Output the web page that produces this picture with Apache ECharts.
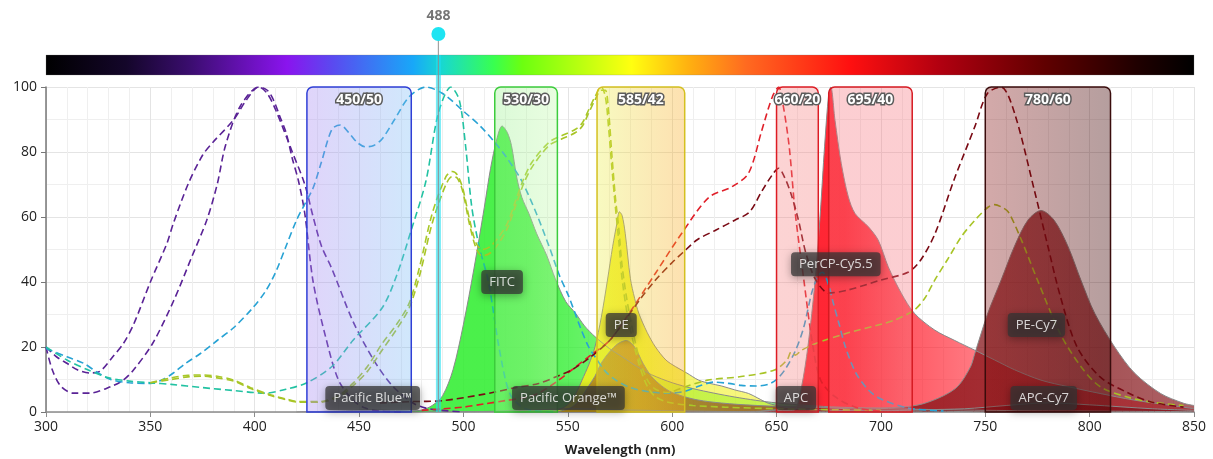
<!DOCTYPE html>
<html><head><meta charset="utf-8">
<script src="https://cdn.jsdelivr.net/npm/echarts@6/dist/echarts.min.js"></script>
<style>html,body{margin:0;padding:0;background:#fff}#c{width:1213px;height:459px}</style>
</head><body><div id="c"></div>
<script>
// ---------- DATA ----------
const xMin = 300, xMax = 850, xStep = 50;
const yMin = 0, yMax = 100, yStep = 20;
const laserNm = 488;
const laserLabel = '488';

const filterNames = ['450/50', '530/30', '585/42', '660/20', '695/40', '780/60'];
const filterLo = [425, 515, 564, 650, 675, 750];
const filterHi = [475, 545, 606, 670, 715, 810];

// excitation spectra (dashed)
const exPacificBlue = [[300,20],[305,17],[310,15],[315,13],[321,12],[326,12.6],[332,17],[337,21],[342,27],[350,40],[358,52],[361,58],[368,70],[375,79],[380,83],[390,90],[396,96],[402,100],[406,99],[409,96],[412,91],[415,86],[418,78],[421,71],[424,61],[428,40],[434,23],[440,10],[447,3.7],[453,1.2],[460,0.3],[470,0]];
const exPacificOrange = [[300,20],[303,13],[307,8],[313,5.8],[321,5.8],[331,7.8],[337,9.8],[342,13],[351,21],[361,34],[370,48],[377,59],[382,70],[386,82],[393,94],[402,100],[406,98],[410,93],[418,80],[424,70],[428,60],[432,51],[437,44],[447,28],[457,16],[466,8],[476,2.7],[482,1.2],[490,0.5],[500,0]];
const exPerCPCy55 = [[300,19.5],[310,17],[318,15],[325,12],[331,10],[340,9],[350,8.8],[356,10],[361,12],[367,15],[374,18],[382,22],[390,26],[399,32],[405,37],[410,43],[415,51],[420,59],[424,64],[428,69],[432,77],[437,87],[441,88.3],[445,86],[449,83],[453,81.6],[457,82],[461,84],[467,90],[474,97],[482,100],[490,98],[501,92],[508,88],[515,83],[521,78],[528,71],[535,61],[541,51],[546,42],[550.5,35.5],[556,26],[560,20],[563,17],[568,12.5],[573,9.8],[580,7.5],[589,6.2],[597,5.8],[605,6.2],[613,8],[620,9.2],[627,8.8],[633,8.2],[640,8],[646,8.5],[650,10],[654,13],[659,18.8],[663,26],[667,37],[670,42],[672,43],[675,39],[677,34],[680,27],[683,20],[688,12],[694,6.8],[700,4],[713,1.2],[730,0.3]];
const exFITC = [[300,20],[310,16],[320,13],[330,10.5],[340,9.5],[350,9],[360,8.5],[375,7.5],[390,6.6],[405,5.8],[415,7],[425,9],[437,14],[447,22],[461,32],[468,42],[475,56],[482,71],[488,92],[494,100],[498,96],[501,82],[504,63],[507.5,51],[512,40],[517,20],[522,6],[528,1.5],[535,0.3],[545,0]];
const exPE = [[350,9],[360,10.5],[368,11.3],[375,11.4],[382,11],[390,9.8],[398,7.5],[408,5.2],[415,4],[421,3.2],[431,3.2],[440,5],[447,8.8],[454,14],[461,21],[468,27],[474,33.5],[479,44.7],[485,61],[491.6,72.4],[494.7,74],[497,73],[499.6,69],[503,59],[506,52],[509,50],[513,51],[517,54],[521,58],[525,65],[529,72],[533,77],[541,83],[547,85],[553.7,87],[557,89],[560,93],[563,97],[566,100],[568,97],[569.6,87],[571,76],[572.8,63],[574.5,52],[576,41],[579,28.3],[584,15],[588,8],[592,4.7],[598,3],[610,2],[625,1.5],[650,1],[700,0.5]];
const exPECy7 = [[350,9],[360,10],[368,10.8],[375,11],[382,10.5],[390,9.5],[398,7.2],[408,5],[415,3.8],[421,3],[431,3],[440,4.5],[447,8],[454,12.5],[461,19],[468,25.5],[474,32],[479,42],[485,58],[491.6,70],[494.7,72.5],[497,72],[499.6,68],[503,57.5],[506,50.5],[509,48],[513,49],[517,52],[521,56.5],[525,63.5],[529,70.5],[533,75.5],[541,82],[547,84],[553.7,86],[557,88],[560,92],[563,96],[566,99],[568,99],[569.6,92],[571,80],[572.8,66],[574.5,56],[576,45],[579,32],[584,17],[588,10],[592,7],[598,6],[605,7.5],[617,9.8],[633,10.9],[649,12.9],[655,16],[657,18.5],[659,17.5],[662,19],[668.5,21],[684,24.3],[700,27],[706.7,28.3],[716,31.4],[721,35],[725.8,40.6],[732,47],[738.6,54],[745,59],[751.3,63],[754.5,63.8],[758,63],[761,61.6],[767,53.4],[775,40.6],[786,24],[795.8,14],[805,7.8],[818,4.6],[830,3],[845,2]];
const exAPC = [[480,0.5],[490,1],[500,1.5],[510,2.5],[520,3.5],[530,4.5],[536,5.8],[545,9.5],[552,13],[561,17.5],[570,22],[579,30],[592,42.7],[604.6,55],[617.5,66],[628.6,69.3],[636.6,73.5],[643,86.8],[648,97],[651,100],[653,95],[656,82],[659,61],[663,41],[667,22],[671,10],[678,4.7],[689,1.2],[700,0.3]];
const exAPCCy7 = [[460,2.8],[475,3.2],[490,3.5],[510,5.5],[525,7.5],[536,8.8],[545,11],[552,13],[561,17],[570,22],[576,27],[585,35],[592,40.6],[600,46],[605,49],[612,53],[621,56],[630,59],[637,61.5],[643,68],[648,73],[651,75],[654,72],[657,67],[660.5,59],[664,49],[668.5,41],[675,36.6],[684,37.5],[700,40.6],[713,43],[719,46.7],[726,55],[735,71.4],[745,87.8],[751,98],[757.6,100],[764,92],[773.6,68],[780,51],[786,35.5],[794,20],[805,10.8],[818,6],[830,3],[845,1.5]];

// emission spectra (filled)
const emFITC = [[470,0],[475,0.2],[480,0.6],[485,2],[490,5],[495,13],[500,27],[505,44],[510,63],[513,75],[516,84],[518.5,88],[521,86],[523,82],[525.6,72],[528,66],[531.4,61],[535,55],[540,48],[544,41],[549,34],[553.7,30.4],[558,26.5],[563,23.2],[570,19.5],[576,17],[583,14],[590,11.5],[600,9],[610,7.2],[620,5.8],[630,4.6],[640,3.6],[650,2.8],[665,2],[680,1.5],[700,1.1],[730,0.7],[770,0.4],[850,0.1]];
const emPE = [[540,0],[545,0.6],[549,1.8],[552,3.7],[554.5,6.5],[556.8,9.8],[560,14.5],[563,20],[566,29],[569,40.6],[571.5,51],[573.5,58],[574.7,61.6],[576,60.5],[577.5,55],[580,41],[582,35],[584,30.4],[588,24.5],[592,20],[597,16],[601.5,14],[607,12],[612.7,9.8],[618,8.8],[623.7,8],[630,6.8],[636.6,5.7],[641,4.3],[646,2.7],[652,1.8],[660,1.1],[675,0.6],[700,0.2],[720,0]];
const emPerCPCy55 = [[600,0],[640,0.2],[650,0.5],[656,0.5],[659,0.8],[662,7.8],[665,20],[668.5,40.6],[671,61.6],[673,81.6],[675,98],[676,100],[678,89.8],[681,76.5],[684.4,66.2],[687.6,61.1],[694,57],[698.7,52.9],[703.5,44.7],[709.8,36.5],[716,30.4],[725.8,25.2],[735.4,22],[745,19],[754.5,16],[764,13],[776.7,9.8],[789.6,7.8],[805,5.7],[821,3.7],[837,2.2],[848,1.2],[850,1]];
const emPECy7 = [[545,0],[552,1.5],[556,4],[560,8],[563,11],[566,15],[570,18.5],[574,21],[578,22],[582,20],[586,15],[590,11],[595,8],[600,6],[610,4],[620,3],[635,2.2],[660,1.5],[690,1.2],[710,1.5],[720,2.5],[730,5],[737,8],[743,14],[745,18],[751,30],[757.6,40.6],[764,51],[770.4,59],[776.7,62],[783,59],[789.6,51],[795.8,40.6],[802.4,30.4],[812,20],[821.5,12],[834,5.7],[845,2.7],[850,2]];
const emAPC = [[640,0],[650,0.8],[660,1.8],[670,1.5],[690,0.8],[720,0.3],[760,0]];
const emAPCCy7 = [[650,0],[700,0.5],[740,1],[760,2],[780,2.8],[800,2.2],[830,1],[850,0.5]];
const emPacificBlue = [[420,0],[440,0.3],[455,0.6],[480,0.3],[520,0]];
const emPacificOrange = [[500,0],[530,0.5],[551,1],[580,0.6],[620,0.2],[650,0]];

// fluorochrome labels
const labelNames = ['Pacific Blue™', 'FITC', 'Pacific Orange™', 'PE', 'APC', 'PerCP-Cy5.5', 'PE-Cy7', 'APC-Cy7'];
const labelX = [456.5, 518.5, 550.3, 575.6, 659.3, 678.4, 774.5, 778];
const labelY = [4.3, 40, 4.3, 26.8, 4.3, 45.5, 26.8, 4.3];

// ---------- STYLES ----------
const FONT = '"Open Sans", "Noto Sans", sans-serif';
const spectrumStops = [
  [0,'#000000'],[0.07,'#14062a'],[0.125,'#3a0d6e'],[0.21,'#8a14ee'],[0.25,'#5a4af0'],
  [0.32,'#18a8f8'],[0.345,'#18d8d0'],[0.39,'#38ff50'],[0.415,'#6cff10'],[0.51,'#ffff10'],
  [0.56,'#ffb010'],[0.61,'#ff6a20'],[0.70,'#ff1010'],[0.78,'#b00010'],[0.87,'#600000'],
  [0.95,'#200000'],[1,'#000000']];
const bandFill = [
  ['rgba(166,132,241,0.35)','rgba(121,189,246,0.35)'],
  ['rgba(150,240,140,0.35)','rgba(195,250,170,0.35)'],
  ['rgba(235,241,75,0.35)','rgba(249,166,29,0.35)'],
  ['rgba(246,130,130,0.35)','rgba(246,125,125,0.35)'],
  ['rgba(246,115,125,0.35)','rgba(246,115,125,0.35)'],
  ['rgba(130,10,10,0.35)','rgba(60,0,0,0.38)']];
const bandStroke = ['#2f3fd6','#3ccc3c','#d4c020','#dd1c24','#d61a22','#3a0c0c'];

function hGrad(rgb, stops) {
  return new echarts.graphic.LinearGradient(0, 0, 1, 0,
    stops.map(s => ({ offset: s[0], color: 'rgba(' + rgb + ',' + s[1] + ')' })));
}

function emission(name, data, rgb, stops, z) {
  return {
    name, type: 'line', data, smooth: 0.3, symbol: 'none', z: z || 2,
    silent: true,
    lineStyle: { color: '#8a8a8a', width: 1 },
    areaStyle: { color: hGrad(rgb, stops), opacity: 1 }
  };
}
function excitation(name, data, color) {
  return {
    name: name + ' ex', type: 'line', data, smooth: 0.3, symbol: 'none', z: 3,
    silent: true,
    lineStyle: { color, width: 1.6, type: [7, 4] }
  };
}

const chart = echarts.init(document.getElementById('c'));

const option = {
  animation: false,
  backgroundColor: '#ffffff',
  grid: { left: 46, right: 19, top: 87, bottom: 47, containLabel: false, outerBoundsMode: 'none' },
  xAxis: {
    type: 'value', min: xMin, max: xMax, interval: xStep,
    name: 'Wavelength (nm)', nameLocation: 'middle', nameGap: 32,
    nameTextStyle: { fontFamily: FONT, fontSize: 13, fontWeight: 'bold', color: '#222' },
    axisLine: { show: true, lineStyle: { color: '#8c8c8c', width: 1.5 } },
    axisTick: { show: true, length: 5, lineStyle: { color: '#8c8c8c' } },
    axisLabel: { fontFamily: FONT, fontSize: 14, color: '#222', margin: 8 },
    splitLine: { show: true, lineStyle: { color: '#e4e4e4', width: 1 } },
    minorTick: { show: false, splitNumber: 5 },
    minorSplitLine: { show: true, lineStyle: { color: '#efefef', width: 1 } }
  },
  yAxis: {
    type: 'value', min: yMin, max: yMax, interval: yStep,
    axisLine: { show: true, lineStyle: { color: '#777', width: 1.5 } },
    axisTick: { show: true, length: 5, lineStyle: { color: '#777' } },
    axisLabel: { fontFamily: FONT, fontSize: 14, color: '#222', margin: 9 },
    splitLine: { show: true, lineStyle: { color: '#e4e4e4', width: 1 } },
    minorTick: { show: false, splitNumber: 2 },
    minorSplitLine: { show: true, lineStyle: { color: '#efefef', width: 1 } }
  },
  series: [
    // spectrum gradient bar above the plot
    {
      type: 'custom', clip: false, silent: true, z: 1,
      data: [[xMin, yMax, xMax]],
      encode: { x: 0, y: 1 },
      renderItem(params, api) {
        const a = api.coord([api.value(0), api.value(1)]);
        const b = api.coord([api.value(2), api.value(1)]);
        return {
          type: 'rect',
          shape: { x: a[0], y: a[1] - 32, width: b[0] - a[0], height: 20 },
          style: {
            fill: new echarts.graphic.LinearGradient(0, 0, 1, 0,
              spectrumStops.map(s => ({ offset: s[0], color: s[1] }))),
            stroke: 'rgba(120,120,120,0.5)', lineWidth: 0.5
          }
        };
      }
    },
    emission('Pacific Blue', emPacificBlue, '90,40,160', [[0,0.6],[1,0.6]]),
    emission('Pacific Orange', emPacificOrange, '220,130,30', [[0,0.6],[1,0.6]]),
    emission('FITC', emFITC, '50,238,50', [[0,0.88],[0.16,0.88],[0.3,0.62],[0.5,0.5],[1,0.45]]),
    emission('PE', emPE, '240,240,30', [[0,0.9],[0.25,0.9],[0.4,0.6],[1,0.5]]),
    emission('APC', emAPC, '230,30,40', [[0,0.6],[1,0.6]]),
    emission('PerCP-Cy5.5', emPerCPCy55, '255,20,35', [[0,0.92],[0.33,0.92],[0.45,0.7],[0.6,0.55],[1,0.5]]),
    emission('PE-Cy7', emPECy7, '130,15,20', [[0,0.4],[0.15,0.42],[0.5,0.75],[0.85,0.72],[1,0.65]]),
    emission('APC-Cy7', emAPCCy7, '120,10,20', [[0,0.6],[1,0.6]]),

    excitation('Pacific Blue', exPacificBlue, '#5a2396'),
    excitation('Pacific Orange', exPacificOrange, '#5a2396'),
    excitation('PerCP-Cy5.5', exPerCPCy55, '#27a2d4'),
    excitation('FITC', exFITC, '#22c2a2'),
    excitation('PE', exPE, '#a8c828'),
    excitation('PE-Cy7', exPECy7, '#a8c426'),
    excitation('APC', exAPC, '#e0202a'),
    excitation('APC-Cy7', exAPCCy7, '#7a0a14'),

    // filter bands
    {
      type: 'custom', clip: false, silent: true, z: 4,
      data: filterLo.map((lo, i) => [lo, yMin, filterHi[i], yMax, i]),
      encode: { x: 0, y: 1 },
      renderItem(params, api) {
        const i = api.value(4);
        const tl = api.coord([api.value(0), api.value(3)]);
        const br = api.coord([api.value(2), api.value(1)]);
        return {
          type: 'group',
          children: [
            {
              type: 'rect',
              shape: { x: tl[0], y: tl[1], width: br[0] - tl[0], height: br[1] - tl[1], r: [6, 6, 0, 0] },
              style: {
                fill: new echarts.graphic.LinearGradient(0, 0, 1, 0, [
                  { offset: 0, color: bandFill[i][0] }, { offset: 1, color: bandFill[i][1] }]),
                stroke: bandStroke[i], lineWidth: 1.5
              }
            },
            {
              type: 'text', x: (tl[0] + br[0]) / 2, y: tl[1] + 13,
              style: {
                text: filterNames[i], fill: '#ffffff', stroke: '#5c5c5c', lineWidth: 3,
                strokeFirst: true,
                fontFamily: FONT, fontSize: 14, fontWeight: 'bold',
                align: 'center', verticalAlign: 'middle'
              }
            }
          ]
        };
      }
    },

    // laser line
    {
      type: 'custom', clip: false, silent: true, z: 5,
      data: [[laserNm, yMin]],
      encode: { x: 0, y: 1 },
      renderItem(params, api) {
        const bot = api.coord([api.value(0), yMin]);
        const top = api.coord([api.value(0), yMax]);
        const x = bot[0];
        return {
          type: 'group',
          children: [
            { type: 'line', shape: { x1: x, y1: top[1] - 32, x2: x, y2: bot[1] },
              style: { stroke: 'rgba(30,225,240,0.62)', lineWidth: 5 } },
            { type: 'line', shape: { x1: x, y1: top[1] - 53, x2: x, y2: bot[1] },
              style: { stroke: 'rgba(140,140,140,0.8)', lineWidth: 1.2 } },
            { type: 'circle', shape: { cx: x, cy: top[1] - 53, r: 7 },
              style: { fill: '#1ee4f2' } },
            { type: 'text', x: x, y: top[1] - 71,
              style: { text: laserLabel, fill: '#757575', fontFamily: FONT, fontSize: 14,
                fontWeight: 'bold', align: 'center', verticalAlign: 'middle' } }
          ]
        };
      }
    },

    // fluorochrome name tags
    {
      type: 'scatter', silent: true, z: 6,
      symbolSize: 2, itemStyle: { color: 'rgba(0,0,0,0)' },
      data: labelNames.map((n, i) => [labelX[i], labelY[i], n]),
      label: {
        show: true, position: 'inside', formatter: p => p.data[2],
        color: '#ffffff', fontFamily: FONT, fontSize: 13,
        backgroundColor: 'rgba(52,52,52,0.92)', borderRadius: 4, padding: [6, 8, 5, 8],
        shadowBlur: 8, shadowColor: 'rgba(0,0,0,0.45)', shadowOffsetY: 2
      }
    }
  ]
};
chart.setOption(option);
</script>
</body></html>
